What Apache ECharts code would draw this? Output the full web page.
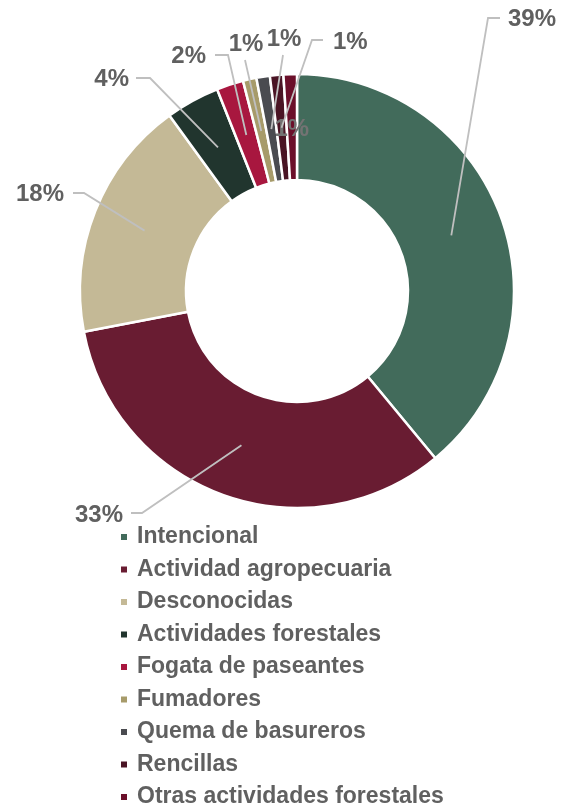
<!DOCTYPE html>
<html>
<head>
<meta charset="utf-8">
<script src="https://cdn.jsdelivr.net/npm/echarts@6/dist/echarts.min.js"></script>
<style>
  html, body { margin: 0; padding: 0; background: #fff; }
  #chart { width: 562px; height: 804px; }
</style>
</head>
<body>
<div id="chart"></div>
<script>
// Causes of forest fires, share of total (%)
const causes = [
  'Intencional',
  'Actividad agropecuaria',
  'Desconocidas',
  'Actividades forestales',
  'Fogata de paseantes',
  'Fumadores',
  'Quema de basureros',
  'Rencillas',
  'Otras actividades forestales'
];
const shares = [39, 33, 18, 4, 2, 1, 1, 1, 1];
const colors = ['#426B5B', '#691C32', '#C4B996', '#21352E', '#A8173F', '#A79B6A', '#4A4B50', '#4A1424', '#6B0F2A'];

// Ring geometry
const CX = 297, CY = 291, R_IN = 111, R_OUT = 217;
const R_MID = (R_IN + R_OUT) / 2;

// Where each callout label sits and the elbow of its leader line
// (null: the label stays on the slice itself, without a leader line)
const callouts = [
  { x: 508, y: 19,  align: 'left',   bend: [[488, 18], [500, 18]] },
  { x: 123, y: 515, align: 'right',  bend: [[142, 513], [131, 513]] },
  { x: 64,  y: 194, align: 'right',  bend: [[84, 193], [73, 193]] },
  { x: 129, y: 79,  align: 'right',  bend: [[150, 78], [136, 78]] },
  { x: 206, y: 56,  align: 'right',  bend: [[228, 55], [215, 55]] },
  { x: 246, y: 44,  align: 'center', bend: [[245, 60]] },
  { x: 284, y: 39,  align: 'center', bend: [[283, 55]] },
  { x: 333, y: 42,  align: 'left',   bend: [[312, 40], [323, 40]] },
  null
];

const total = shares.reduce((a, b) => a + b, 0);
// Point halfway through the ring at the middle angle of slice i
function midRingPoint(i) {
  let before = 0;
  for (let k = 0; k < i; k++) before += shares[k];
  const theta = (before + shares[i] / 2) / total * Math.PI * 2;
  return [CX + R_MID * Math.sin(theta), CY - R_MID * Math.cos(theta)];
}

const FONT = '"Liberation Sans", Arial, sans-serif';
const TEXT_GREY = '#606060';

const data = causes.map((name, i) => {
  const item = { name: name, value: shares[i], itemStyle: { color: colors[i] } };
  if (!callouts[i]) {
    item.label = { color: '#737373' };
  }
  return item;
});

// Leader lines are drawn above the ring so they cross the slices
const leaderLines = callouts.map((c, i) => c && ({
  type: 'polyline',
  z: 100,
  silent: true,
  shape: { points: [midRingPoint(i)].concat(c.bend) },
  style: { stroke: '#BFBFBF', lineWidth: 1.8, fill: null }
})).filter(Boolean);

const chart = echarts.init(document.getElementById('chart'), null, { renderer: 'canvas' });
chart.setOption({
  backgroundColor: '#ffffff',
  animation: false,
  graphic: leaderLines,
  legend: {
    orient: 'vertical',
    left: 119,
    top: 525,
    height: 320,
    padding: 0,
    itemWidth: 8,
    itemHeight: 8,
    itemGap: 8.5,
    icon: 'rect',
    data: causes,
    textStyle: {
      fontFamily: FONT,
      fontWeight: 'bold',
      fontSize: 23,
      lineHeight: 24,
      color: TEXT_GREY,
      padding: [0, 0, 0, 4]
    }
  },
  series: [{
    type: 'pie',
    center: [CX, CY],
    radius: [R_IN, R_OUT],
    startAngle: 90,
    clockwise: true,
    avoidLabelOverlap: false,
    itemStyle: { borderColor: '#ffffff', borderWidth: 2.5 },
    label: {
      show: true,
      position: 'outside',
      formatter: '{c}%',
      fontFamily: FONT,
      fontWeight: 'bold',
      fontSize: 24,
      color: TEXT_GREY
    },
    labelLine: { show: false },
    labelLayout: function (params) {
      const i = params.dataIndex;
      const c = callouts[i];
      if (!c) {
        const p = midRingPoint(i);
        return { x: p[0], y: p[1] + 2, align: 'center', verticalAlign: 'middle' };
      }
      return { x: c.x, y: c.y, align: c.align, verticalAlign: 'middle' };
    },
    data: data
  }]
});
</script>
</body>
</html>
